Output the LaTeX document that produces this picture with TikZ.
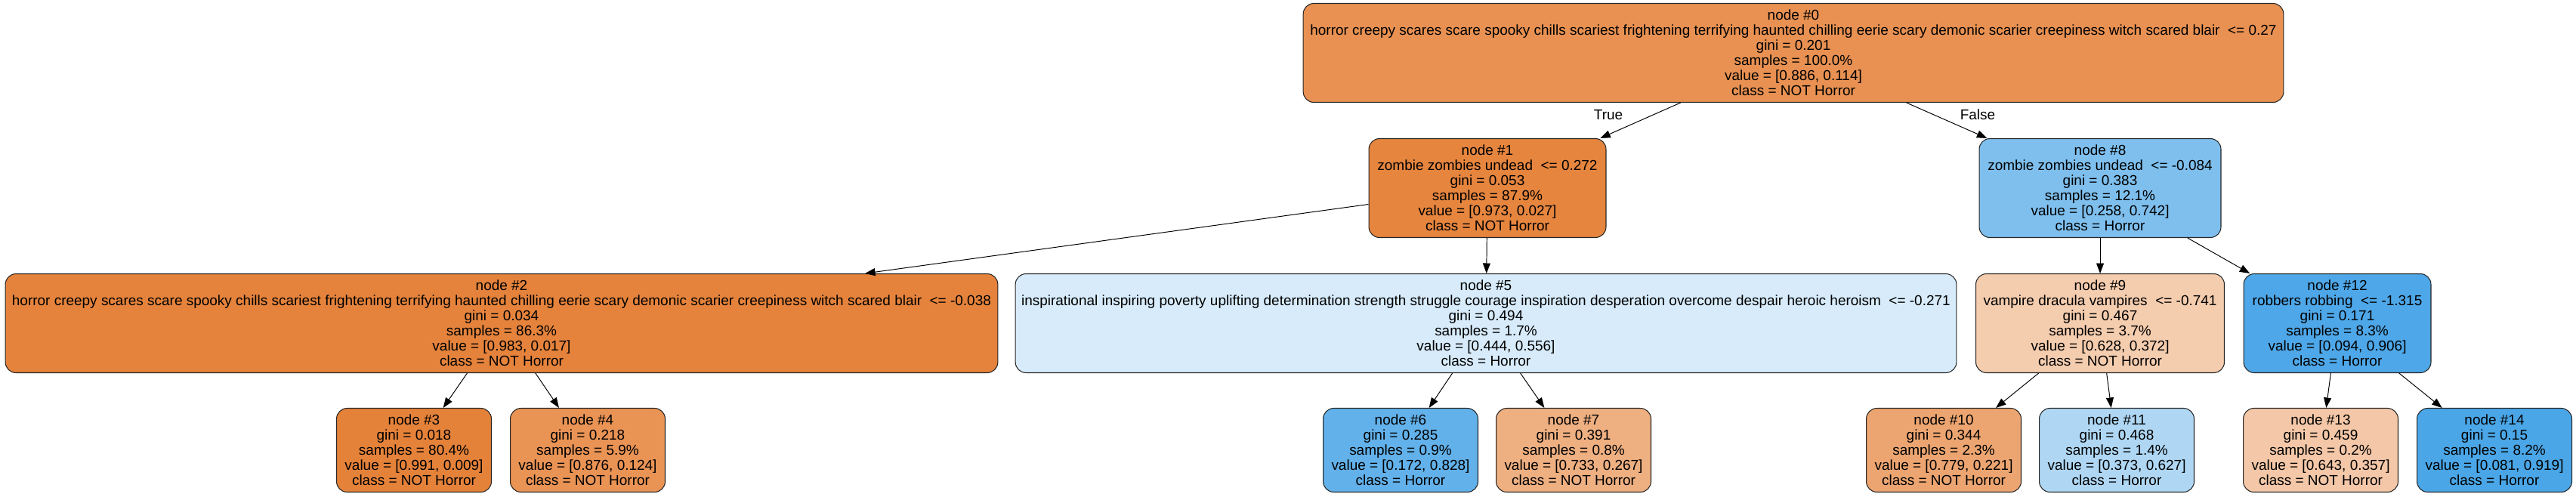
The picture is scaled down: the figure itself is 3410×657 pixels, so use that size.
\documentclass[tikz,border=0pt]{standalone}
\usepackage{fontspec}
\usepackage{xcolor}
\usepackage{tikz}
\usetikzlibrary{arrows.meta, positioning}
\newfontfamily\treefont{Liberation Sans}
\definecolor{fillNodeA}{RGB}{232, 145, 82}
\definecolor{fillNodeB}{RGB}{230, 133, 62}
\definecolor{fillNodeC}{RGB}{229, 131, 60}
\definecolor{fillNodeD}{RGB}{229, 130, 58}
\definecolor{fillNodeE}{RGB}{233, 147, 85}
\definecolor{fillNodeF}{RGB}{215, 235, 250}
\definecolor{fillNodeG}{RGB}{98, 177, 234}
\definecolor{fillNodeH}{RGB}{238, 175, 129}
\definecolor{fillNodeI}{RGB}{126, 191, 238}
\definecolor{fillNodeJ}{RGB}{244, 204, 174}
\definecolor{fillNodeK}{RGB}{236, 165, 113}
\definecolor{fillNodeL}{RGB}{175, 215, 244}
\definecolor{fillNodeM}{RGB}{78, 167, 232}
\definecolor{fillNodeN}{RGB}{243, 199, 167}
\definecolor{fillNodeO}{RGB}{74, 166, 231}
\tikzset{
  splitnode/.style={
    rectangle, rounded corners=8pt,
    draw=black!85, line width=0.6pt,
    minimum height=2.62cm, inner sep=0pt,
    align=center, font=\treefont\fontsize{10.8}{11.38}\selectfont
  },
  leafnode/.style={
    splitnode,
    minimum width=4.1cm, minimum height=2.22cm
  },
  edgelabel/.style={
    font=\treefont\fontsize{10.8}{11.38}\selectfont
  },
  treearrow/.style={
    -{Triangle[length=0.27cm,width=0.2cm]},
    line width=0.55pt, color=black
  }
}

\begin{document}
\begin{tikzpicture}[x=0.02cm, y=-0.02cm]
  \useasboundingbox (0,0) rectangle (3410,657);

  % root
  \node[splitnode, fill=fillNodeA, minimum width=25.96cm] (n0) at (2374,70)
    {node \#0\\horror creepy scares scare spooky chills scariest frightening terrifying haunted chilling eerie scary demonic scarier creepiness witch scared blair~ <= 0.27\\gini = 0.201\\samples = 100.0\%\\value = [0.886, 0.114]\\class = NOT Horror};

  % depth 1
  \node[splitnode, fill=fillNodeB, minimum width=6.28cm] (n1) at (1969,249)
    {node \#1\\zombie zombies undead~ <= 0.272\\gini = 0.053\\samples = 87.9\%\\value = [0.973, 0.027]\\class = NOT Horror};
  \node[splitnode, fill=fillNodeI, minimum width=6.4cm] (n8) at (2780,249)
    {node \#8\\zombie zombies undead~ <= -0.084\\gini = 0.383\\samples = 12.1\%\\value = [0.258, 0.742]\\class = Horror};

  % depth 2
  \node[splitnode, fill=fillNodeC, minimum width=26.28cm] (n2) at (664,428)
    {node \#2\\horror creepy scares scare spooky chills scariest frightening terrifying haunted chilling eerie scary demonic scarier creepiness witch scared blair~ <= -0.038\\gini = 0.034\\samples = 86.3\%\\value = [0.983, 0.017]\\class = NOT Horror};
  \node[splitnode, fill=fillNodeF, minimum width=24.92cm] (n5) at (1967,428)
    {node \#5\\inspirational inspiring poverty uplifting determination strength struggle courage inspiration desperation overcome despair heroic heroism~ <= -0.271\\gini = 0.494\\samples = 1.7\%\\value = [0.444, 0.556]\\class = Horror};
  \node[splitnode, fill=fillNodeJ, minimum width=6.58cm] (n9) at (2780,428)
    {node \#9\\vampire dracula vampires~ <= -0.741\\gini = 0.467\\samples = 3.7\%\\value = [0.628, 0.372]\\class = NOT Horror};
  \node[splitnode, fill=fillNodeM, minimum width=4.96cm] (n12) at (3094,428)
    {node \#12\\robbers robbing~ <= -1.315\\gini = 0.171\\samples = 8.3\%\\value = [0.094, 0.906]\\class = Horror};

  % leaves
  \node[leafnode, fill=fillNodeD] (n3) at (548,596)
    {node \#3\\gini = 0.018\\samples = 80.4\%\\value = [0.991, 0.009]\\class = NOT Horror};
  \node[leafnode, fill=fillNodeE] (n4) at (778,596)
    {node \#4\\gini = 0.218\\samples = 5.9\%\\value = [0.876, 0.124]\\class = NOT Horror};
  \node[leafnode, fill=fillNodeG] (n6) at (1854,596)
    {node \#6\\gini = 0.285\\samples = 0.9\%\\value = [0.172, 0.828]\\class = Horror};
  \node[leafnode, fill=fillNodeH] (n7) at (2083,596)
    {node \#7\\gini = 0.391\\samples = 0.8\%\\value = [0.733, 0.267]\\class = NOT Horror};
  \node[leafnode, fill=fillNodeK] (n10) at (2573,596)
    {node \#10\\gini = 0.344\\samples = 2.3\%\\value = [0.779, 0.221]\\class = NOT Horror};
  \node[leafnode, fill=fillNodeL] (n11) at (2802,596)
    {node \#11\\gini = 0.468\\samples = 1.4\%\\value = [0.373, 0.627]\\class = Horror};
  \node[leafnode, fill=fillNodeN] (n13) at (3072,596)
    {node \#13\\gini = 0.459\\samples = 0.2\%\\value = [0.643, 0.357]\\class = NOT Horror};
  \node[leafnode, fill=fillNodeO] (n14) at (3302,596)
    {node \#14\\gini = 0.15\\samples = 8.2\%\\value = [0.081, 0.919]\\class = Horror};

  \node[edgelabel] (ltrue)  at (2129,152) {True};
  \node[edgelabel] (lfalse) at (2618,152) {False};

  \draw[treearrow] (n0) -- (n1);
  \draw[treearrow] (n0) -- (n8);
  \draw[treearrow] (n1) -- (n2);
  \draw[treearrow] (n1) -- (n5);
  \draw[treearrow] (n2) -- (n3);
  \draw[treearrow] (n2) -- (n4);
  \draw[treearrow] (n5) -- (n6);
  \draw[treearrow] (n5) -- (n7);
  \draw[treearrow] (n8) -- (n9);
  \draw[treearrow] (n8) -- (n12);
  \draw[treearrow] (n9) -- (n10);
  \draw[treearrow] (n9) -- (n11);
  \draw[treearrow] (n12) -- (n13);
  \draw[treearrow] (n12) -- (n14);
\end{tikzpicture}
\end{document}
